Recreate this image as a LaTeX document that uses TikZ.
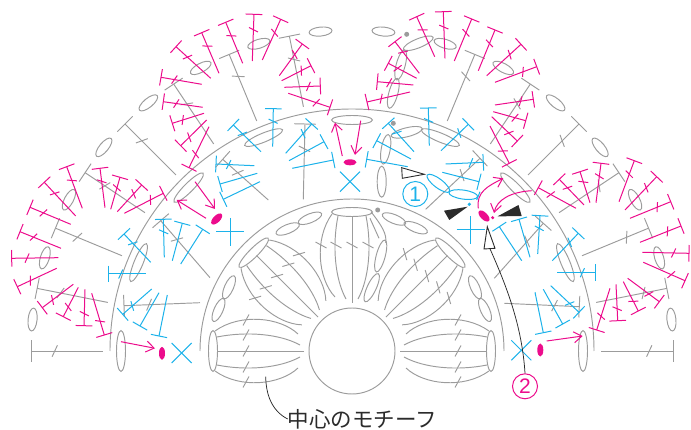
\documentclass[tikz,border=0pt]{standalone}
\usepackage{xcolor}
\usepackage{fontspec}
\setsansfont{Liberation Sans}
\newfontfamily\cjkfont{Noto Sans CJK JP}
\usetikzlibrary{calc,arrows.meta,shapes.geometric}
\definecolor{YarnGrey}{HTML}{9C9C9C}
\definecolor{YarnPink}{HTML}{EC0C8C}
\definecolor{YarnBlue}{HTML}{1CB2EA}
\definecolor{LeadDark}{HTML}{2B2B2B}
\tikzset{
  greyline/.style={YarnGrey, line width=0.95pt},
  pinkline/.style={YarnPink, line width=1pt},
  blueline/.style={YarnBlue, line width=1pt},
  pinkarrow/.style={pinkline, -{Straight Barb[length=8pt,width=11pt]}},
  leadline/.style={LeadDark, line width=0.75pt},
  markwhite/.style={LeadDark, line width=0.9pt, fill=white},
}
\newcommand{\barhalf}{8.3pt}
\newcommand{\tickhalf}{5pt}
% style, top, base
\newcommand{\tbar}[3]{%
  \draw[#1] (#2) -- (#3);
  \draw[#1] ($(#2)!\barhalf!90:(#3)$) -- ($(#2)!\barhalf!-90:(#3)$);
}
\newcommand{\ttick}[3]{%
  \tbar{#1}{#2}{#3}
  \coordinate (tk) at ($(#2)!0.33!(#3)$);
  \draw[#1] ($(tk)!\tickhalf!65:(#3)$) -- ($(tk)!\tickhalf!-115:(#3)$);
}
% local frame: petal lies along +x from the centre
\newcommand{\petalcore}{%
  \draw[greyline] (139,0) ellipse [x radius=4.5pt, y radius=20.5pt];
  \draw[greyline] (48,0) -- (135,0);
  \foreach \s in {1,-1} {
    \draw[greyline] (52,6*\s) .. controls (72,17*\s) and (105,20*\s) .. (135,14*\s);
  }
  \draw[greyline] (54,-17) .. controls (72,-34) and (112,-38) .. (137,-20);
  \foreach \h in {-31,-16,0,16} {
    \draw[greyline] (103,\h+5.5) -- (109,\h-5.5);
  }
}
\begin{document}
\begin{tikzpicture}[x=1pt, y=-1pt]
    \useasboundingbox (0,0) rectangle (691,430);
    % centre motif
    \begin{scope}[shift={(352,351)}]
      \draw[greyline] (0,0) circle [radius=43pt];
      \draw[greyline] (-152pt,0) arc [start angle=180, end angle=0, radius=152pt];
      \draw[greyline] (-242pt,0) arc [start angle=180, end angle=0, radius=242pt];
      \foreach \a in {0,45,135,180} {
        \begin{scope}[rotate=\a]
          \petalcore
          \draw[greyline] (54,17) .. controls (72,34) and (112,38) .. (137,20);
          \draw[greyline] (103,36.5) -- (109,25.5);
        \end{scope}
      }
      \begin{scope}[rotate=90]
        \petalcore
      \end{scope}
      \foreach \a in {0,22.5,...,180} {
        \draw[greyline] (\a:231pt) ellipse [x radius=4.5pt, y radius=20.5pt, rotate=\a];
      }
      % long stitches of the third round
      \renewcommand{\barhalf}{10.8pt}
      \renewcommand{\tickhalf}{6.3pt}
      \foreach \a in {0,11.25,...,67.5,101.25,112.5,...,180} {
        \ttick{greyline}{\a:321pt}{\a:249pt}
      }
      \foreach \a in {5.625,16.875,...,174.5} {
        \draw[greyline] (\a:321pt) ellipse [x radius=4.5pt, y radius=11.5pt, rotate=\a];
      }
    \end{scope}
    \draw[greyline] (371,211.7) .. controls (382,226) and (387,234) .. (385.7,243);
    \draw[greyline] (370,218.3) -- (379,238.3);
    % loose chains
    \foreach \x/\y/\rx/\ry/\r in {
      475/287.3/12.5/4.5/-66, 485/310/12.5/4.5/-66,
      229/287.3/12.5/4.5/66, 218.5/310/12.5/4.5/66,
      394/219/12.5/4.5/-22, 415.7/227.7/12.5/4.5/-22,
      287.7/229/12.5/4.5/22, 310/218.3/12.5/4.5/22,
      380.7/256/16.5/4.5/75, 371.7/287.7/15.5/4.5/65,
      406.7/132.3/16/4.5/14, 385.7/149.3/15/4.5/80, 381.7/181.7/15.5/4.5/90,
      418.3/43.3/16/4.5/22, 400.7/65/15.5/4.5/75, 393.3/93.3/15.5/4.5/75} {
      \draw[greyline] (\x,\y) ellipse [x radius=\rx pt, y radius=\ry pt, rotate=\r];
    }
    \foreach \x/\y/\name in {377.7/210/dotA, 393.3/123.3/dotB, 406.7/34.3/dotC} {
      \node[circle, fill=YarnGrey, inner sep=0pt, minimum size=5pt] (\name) at (\x,\y) {};
    }
    % long stitches of the second round
    \renewcommand{\barhalf}{10.8pt}
    \renewcommand{\tickhalf}{6.3pt}
    \foreach \a/\b/\c/\d in {
      124/305.7/200/302.7, 160.7/220.7/210/277.7, 222.7/159.3/268.3/200,
      305/124/303.3/199.3, 480/158.3/425.7/209.3, 543.3/223.3/494.3/278.3,
      579.3/306.7/504.3/303.3} {
      \ttick{greyline}{\a,\b}{\c,\d}
    }
    \renewcommand{\barhalf}{8.3pt}
    \renewcommand{\tickhalf}{5pt}
    % blue stitches
    \foreach \a/\b/\c/\d in {
      108.3/274/146/274, 124/234/150.7/262.3, 163.3/219.3/164.3/257.3,
      122.7/314.3/151.7/289, 216/164/254.3/165.7, 233.3/125/261/151.7,
      273.3/108.7/272.7/146.7, 311.7/124/285.7/153.3, 388.3/123.3/414/151.7,
      428.3/108/429.3/145.7, 468.3/124.3/441/150.7, 483.3/162.3/445.7/164,
      540/215.7/537.7/254, 578.3/233.3/552.3/260.7, 595/272.7/556.7/272.7,
      579/312.3/550.7/285.7} {
      \ttick{blueline}{\a,\b}{\c,\d}
    }
    \foreach \a/\b/\c/\d in {
      140/326/159/292.7, 159/336/167.3/295, 182.3/223.3/172.3/260.7,
      202.7/229.3/180.7/264, 220/184/257.3/173.3, 223.3/199.3/260/181.7,
      324/141.7/289/160.7, 333.3/160/292.3/168.3, 366.7/159.3/407.7/166.7,
      376.7/140.7/411/159, 479/181.7/442.3/172.3, 499.3/226.7/521.7/260.7,
      519/219.3/530/257.3, 562.7/324/543.3/289.3, 543.3/332.7/535/292.3} {
      \tbar{blueline}{\a,\b}{\c,\d}
    }
    \draw[blueline] (480,191.7) -- (476.7,200);
    \foreach \x/\y in {181.7/353, 350/181.7, 521.3/350.3} {
      \draw[blueline] (\x-10,\y+10) -- (\x+10,\y-10);
      \draw[blueline] (\x-10,\y-10) -- (\x+10,\y+10);
    }
    \foreach \x/\y in {230/232, 470.7/230} {
      \draw[blueline] (\x,\y-14) -- (\x,\y+14);
      \draw[blueline] (\x-14,\y) -- (\x+14,\y);
    }
    \draw[blueline] (438.3,183.3) ellipse [x radius=13.8pt, y radius=4.5pt, rotate=-37];
    \draw[blueline] (463.3,194.6) ellipse [x radius=14.5pt, y radius=4.5pt, rotate=-8];
    \node[circle, fill=YarnBlue, inner sep=0pt, minimum size=3.6pt] (dotBlue) at (469.3,204.3) {};
    % pink stitches
    \foreach \a/\b/\c/\d in {
      42.3/307.7/73.3/284.3, 63.3/316.7/78.3/287.3, 84/325.7/85/289.3, 104.3/335/91.7/293.3,
      17.3/286.7/56.7/268.3, 11.7/258.3/58.3/257.7, 20/231.7/61/248.3, 30/207.3/70.7/224.3,
      44.3/182.3/75.7/216, 66.7/166.7/82.3/208.3,
      100/168.3/105/207.7, 120/177.3/110.7/209.3, 141.7/185/117.3/211.7, 163.3/193.3/124.3/213.3,
      163.3/101.7/202.7/107.3, 172.3/123.3/204/113.3, 180.7/145.7/206.7/120, 189/167.7/209/126.7,
      161/77.3/201.7/84.3, 176/46.7/210.7/78.3, 201.7/32.7/219/73.3, 225.7/22.3/242.7/63.3,
      254/14.3/252.3/61, 280.7/19.3/262.3/60,
      302.3/44/279.3/75.7, 311/65.7/281.7/80.7, 320.3/86/284.3/87.3, 330/107.3/288.3/93.3,
      367/102/410/92, 377.3/81.7/413.3/85, 388.3/63.3/416.7/78.3, 395/41.7/419.3/73.3,
      416.7/16.7/434.7/56.7, 443.3/11.7/445/58.3, 471.7/19/454.3/61, 495/30/478.3/70.7,
      521/44.3/486.7/75.7, 536.7/66.7/495/82.3,
      533.3/99.3/495/105, 525.7/120.7/493.3/111.7, 517.3/141/491.7/116.7, 509.3/163.3/490/126,
      538.3/187.7/576/208.3, 559.3/179.3/584/205, 580/171.7/590/202.7, 601/163.3/596/202.7,
      634.3/160.7/619/201.7, 656.7/176.7/625/210, 670.7/201.7/630/218.3, 681/226/640/242.3,
      689/253.3/642.3/252.3, 685/280.7/643.3/262.3,
      596.7/330/610/288.3, 617.7/320.7/616/284.3, 638.3/311/623.3/281.7, 659.3/301.7/627.7/278.3} {
      \ttick{pinkline}{\a,\b}{\c,\d}
    }
    % joins
    \foreach \x/\y/\rx/\ry/\r/\name in {
      162/353.3/6.5/3/90/ovalA, 216.7/219/7/3.5/45/ovalB, 350/162.3/6.5/3/0/ovalC,
      484/216/7/3.5/-45/ovalD, 540.3/350/6.5/3/90/ovalE} {
      \node[ellipse, fill=YarnPink, inner sep=0pt, minimum width=2*\rx pt,
        minimum height=2*\ry pt, rotate=\r] (\name) at (\x,\y) {};
    }
    \node[circle, fill=YarnPink, inner sep=0pt, minimum size=3.4pt] (dotPink) at (492.7,217.7) {};
    \coordinate (loopA) at (478.3,208.3);
    \draw[pinkarrow] (121,341.7) -- (155,348.3);
    \draw[pinkarrow] (206,218.3) -- (176.7,200);
    \draw[pinkarrow] (195,181.7) -- (215,209);
    \draw[pinkarrow] (342.3,156) -- (335,122.7);
    \draw[pinkarrow] (360.7,120.7) -- (355,155);
    \draw[pinkarrow] (546.7,341) -- (582.7,336);
    \draw[pinkarrow] (loopA) .. controls (476,192) and (488,186) .. (503.3,178.3);
    \draw[pinkarrow] (531.7,190.7) .. controls (510,192) and (497,200) .. (494,213);
    % markers
    \fill[LeadDark] (444,210.7) -- (467.7,206.7) -- (449.3,220) -- cycle;
    \fill[LeadDark] (497.5,216.4) -- (518.5,205) -- (521.7,216) -- cycle;
    \draw[markwhite] (401.7,167.7) -- (424.3,174.3) -- (402.3,178.3) -- cycle;
    \node[circle, draw=YarnBlue, line width=1pt, minimum size=25pt, inner sep=0pt,
      text=YarnBlue, font=\sffamily\fontsize{21}{21}\selectfont] (numA) at (415.3,194) {1};
    \node[circle, draw=YarnPink, line width=1pt, minimum size=25pt, inner sep=0pt,
      text=YarnPink, font=\sffamily\fontsize{21}{21}\selectfont] (numB) at (525,386.3) {2};
    \draw[markwhite] (487.3,226.7) -- (484,249) -- (495,248.3) -- cycle;
    \coordinate (markFoot) at (490,248.8);
    \draw[leadline] (markFoot) .. controls (506,285) and (522,325) .. (numB.north);
    \node[font=\cjkfont\fontsize{21.5}{21.5}\selectfont, text=LeadDark, inner sep=0pt] (motif) at (362.5,419) {中心のモチーフ};
    \coordinate (petalFoot) at (265.7,376.7);
    \draw[leadline] (petalFoot) .. controls (266,395) and (272,411) .. (motif.west);
\end{tikzpicture}
\end{document}
